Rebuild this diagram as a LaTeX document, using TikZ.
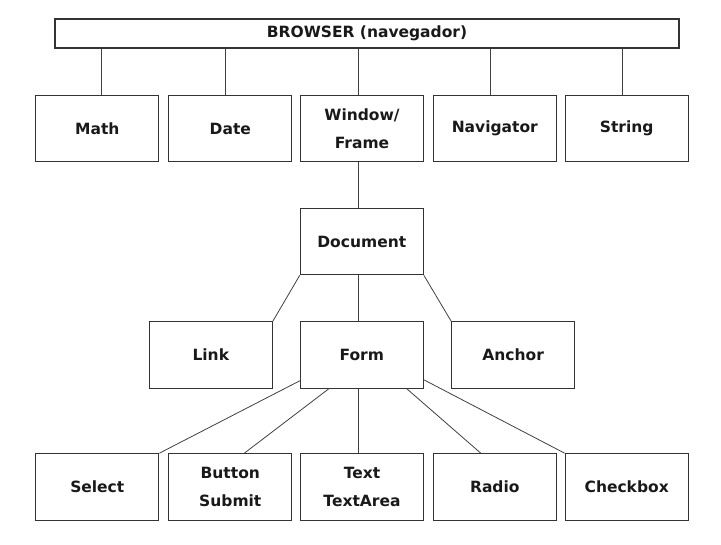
\documentclass[tikz,border=0pt]{standalone}
\usepackage{fontspec}
\setmainfont{DejaVu Sans}
\begin{document}
\begin{tikzpicture}[x=1pt,y=-1pt,
  box/.style={draw=black!80, line width=1.1pt, rectangle, inner sep=0pt,
    minimum width=123pt, minimum height=66.5pt, align=center,
    font=\fontsize{15.5}{28}\selectfont\bfseries, text=black!90},
  bar/.style={draw=black!80, line width=1.1pt, rectangle, inner sep=0pt,
    minimum width=624pt, minimum height=29pt,
    font=\fontsize{15.5}{18}\selectfont\bfseries, text=black!90},
  link/.style={draw=black!75, line width=0.8pt}]
\useasboundingbox (0,0) rectangle (721,545);
\node[bar] (browser) at (367,33.5) {BROWSER (navegador)};
% row 1
\node[box] (math) at (97.3,128.5) {Math};
\node[box] (date) at (230.3,128.5) {Date};
\node[box] (window) at (362,128.5) {Window/\\Frame};
\node[box] (navigator) at (494.8,128.5) {Navigator};
\node[box] (string) at (626.7,128.5) {String};
% document
\node[box] (document) at (361.8,241.5) {Document};
% row 3
\node[box] (link) at (210.8,355) {Link};
\node[box] (form) at (361.8,355) {Form};
\node[box] (anchor) at (513.2,355) {Anchor};
% row 4
\node[box] (select) at (97.3,487) {Select};
\node[box] (button) at (230.3,487) {Button\\Submit};
\node[box] (text) at (362,487) {Text\\TextArea};
\node[box] (radio) at (494.8,487) {Radio};
\node[box] (checkbox) at (626.7,487) {Checkbox};
% connectors
\draw[link] (browser.south -| 101.3,0) -- (math.north -| 101.3,0);
\draw[link] (browser.south -| 225,0) -- (date.north -| 225,0);
\draw[link] (browser.south -| 358.7,0) -- (window.north -| 358.7,0);
\draw[link] (browser.south -| 490,0) -- (navigator.north -| 490,0);
\draw[link] (browser.south -| 622.7,0) -- (string.north -| 622.7,0);
\draw[link] (window.south -| 358.7,0) -- (document.north -| 358.7,0);
\draw[link] (document.south -| 358.2,0) -- (form.north -| 358.2,0);
\draw[link] (document.south west) -- (link.north east);
\draw[link] (document.south east) -- (anchor.north west);
\draw[link] ([yshift=8pt]form.south west) -- (select.north east);
\draw[link] ([xshift=29pt]form.south west) -- ([xshift=14pt]button.north);
\draw[link] (form.south -| 358.7,0) -- (text.north -| 358.7,0);
\draw[link] ([xshift=-17pt]form.south east) -- ([xshift=-14pt]radio.north);
\draw[link] ([yshift=9pt]form.south east) -- (checkbox.north west);
\end{tikzpicture}
\end{document}
